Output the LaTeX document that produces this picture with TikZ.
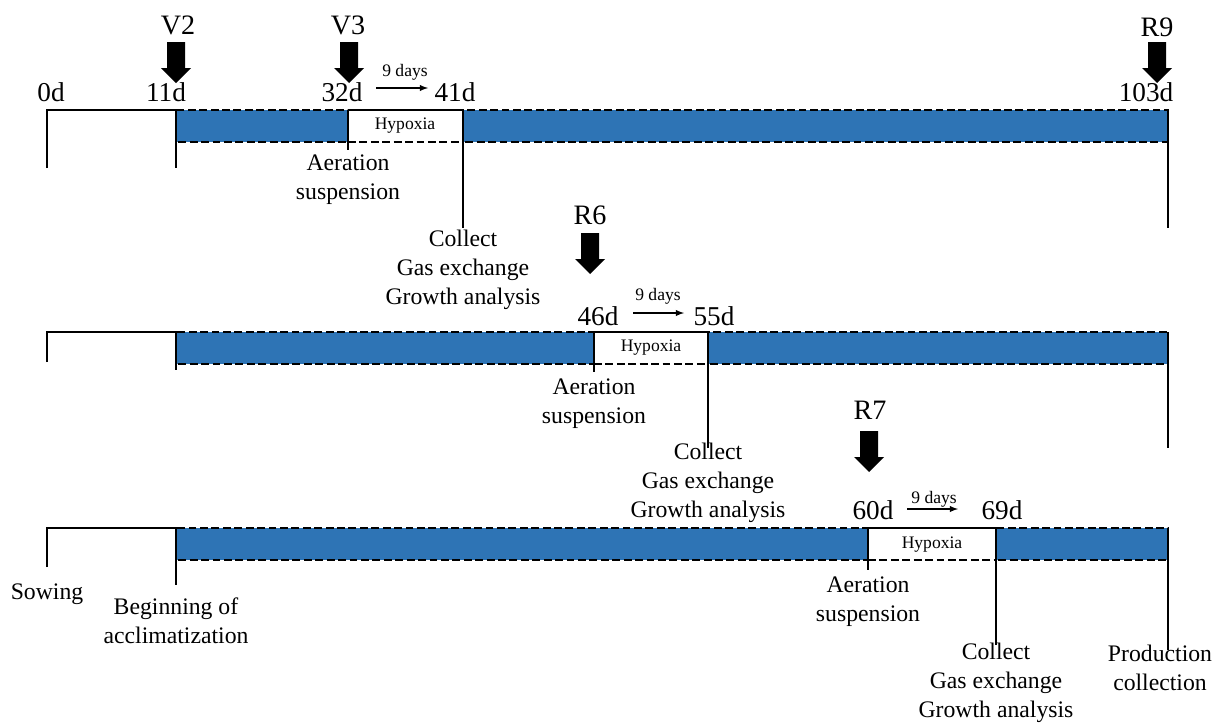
\documentclass[tikz,border=0pt]{standalone}
\usepackage{fontspec}
\setmainfont{Liberation Serif}
\usetikzlibrary{positioning}
\definecolor{barblue}{RGB}{46,116,181}
\tikzstyle{bluebar}=[fill=barblue, preaction={draw=white, solid, line width=0.9pt}, draw=black, dash pattern=on 4.5pt off 2pt, line width=0.9pt]
\tikzstyle{dropline}=[draw=black, line width=1.4pt]
\tikzstyle{hypoedge}=[draw=black, dash pattern=on 4.5pt off 2pt, line width=0.9pt]
\tikzstyle{daylbl}=[inner sep=0pt, font=\fontsize{15.5}{18}\selectfont]
\tikzstyle{stagelbl}=[inner sep=0pt, font=\fontsize{16}{19}\selectfont]
\tikzstyle{note}=[inner sep=0pt, align=center, font=\fontsize{13.5}{16.5}\selectfont]
\tikzstyle{smalllbl}=[inner sep=0pt, font=\fontsize{10}{12}\selectfont]
\newcommand{\stagearrow}[2]{\fill[black] (#1-9,#2) -- (#1+9,#2) -- (#1+9,#2+26) -- (#1+15,#2+26) -- (#1,#2+41) -- (#1-15,#2+26) -- (#1-9,#2+26) -- cycle;}

\begin{document}
\begin{tikzpicture}[x=0.02cm, y=-0.02cm, >=latex]
		\useasboundingbox (0,0) rectangle (1222,724);
		
		% first cycle: V3
		\draw[bluebar] (176,110) rectangle (348,142);
		\draw[bluebar] (463,110) rectangle (1168,142);
		\draw[hypoedge] (348,142) -- (463,142);
		\draw[dropline] (47,168) -- (47,110) -- (176,110) -- (176,168);
		\draw[dropline] (348,110) -- (463,110);
		\draw[dropline] (348,110) -- (348,150);
		\draw[dropline] (463,110) -- (463,228);
		\draw[dropline] (1168,110) -- (1168,228);
		\node[smalllbl] (hyp1) at (405,126) {Hypoxia};
		
		\node[stagelbl] (v2) at (178,25) {V2};
		\node[stagelbl] (v3) at (348,25) {V3};
		\node[stagelbl] (r9) at (1157,27) {R9};
		\stagearrow{176}{42}
		\stagearrow{349}{42}
		\stagearrow{1157}{42}
		
		\node[daylbl] (d0) at (51,92) {0d};
		\node[daylbl] (d11) at (166,92) {11d};
		\node[daylbl] (d32) at (342,92) {32d};
		\node[daylbl] (d41) at (455,92) {41d};
		\node[daylbl] (d103) at (1146,92) {103d};
		\coordinate (a1s) at (376,88);
		\coordinate (a1e) at (428,88);
		\draw[->, line width=0.6pt] (a1s) -- (a1e);
		\node[smalllbl] (nd1) at (405,72) {9 days};
		
		\node[note] (aer1) at (348,180) {Aeration\\suspension};
		\node[note] (col1) at (463,270) {Collect\\Gas exchange\\Growth analysis};
		
		% second cycle: R6
		\draw[bluebar] (176,332) rectangle (594,364);
		\draw[bluebar] (708,332) rectangle (1168,364);
		\draw[hypoedge] (594,364) -- (708,364);
		\draw[dropline] (47,362) -- (47,332) -- (176,332) -- (176,370);
		\draw[dropline] (594,332) -- (708,332);
		\draw[dropline] (594,332) -- (594,372);
		\draw[dropline] (708,332) -- (708,448);
		\draw[dropline] (1168,332) -- (1168,448);
		\node[smalllbl] (hyp2) at (651,348) {Hypoxia};
		
		\node[stagelbl] (r6) at (590,215) {R6};
		\stagearrow{590}{233}
		
		\node[daylbl] (d46) at (598,316) {46d};
		\node[daylbl] (d55) at (714,316) {55d};
		\coordinate (a2s) at (633,313);
		\coordinate (a2e) at (684,313);
		\draw[->, line width=0.6pt] (a2s) -- (a2e);
		\node[smalllbl] (nd2) at (658,296) {9 days};
		
		\node[note] (aer2) at (594,404) {Aeration\\suspension};
		\node[note] (col2) at (708,483) {Collect\\Gas exchange\\Growth analysis};
		
		% third cycle: R7
		\draw[bluebar] (176,528) rectangle (868,560);
		\draw[bluebar] (996,528) rectangle (1168,560);
		\draw[hypoedge] (868,560) -- (996,560);
		\draw[dropline] (47,567) -- (47,528) -- (176,528) -- (176,585);
		\draw[dropline] (868,528) -- (996,528);
		\draw[dropline] (868,528) -- (868,570);
		\draw[dropline] (996,528) -- (996,645);
		\draw[dropline] (1168,528) -- (1168,650);
		\node[smalllbl] (hyp3) at (932,545) {Hypoxia};
		
		\node[stagelbl] (r7) at (870,410) {R7};
		\stagearrow{869}{431}
		
		\node[daylbl] (d60) at (873,510) {60d};
		\node[daylbl] (d69) at (1002,510) {69d};
		\coordinate (a3s) at (907,509);
		\coordinate (a3e) at (958,509);
		\draw[->, line width=0.6pt] (a3s) -- (a3e);
		\node[smalllbl] (nd3) at (934,499) {9 days};
		
		\node[note] (sow) at (47,594) {Sowing};
		\node[note] (accl) at (176,621) {Beginning of\\acclimatization};
		\node[note] (aer3) at (868,602) {Aeration\\suspension};
		\node[note] (col3) at (996,683) {Collect\\Gas exchange\\Growth analysis};
		\node[note] (prod) at (1160,668) {Production\\collection};
		
\end{tikzpicture}
\end{document}
